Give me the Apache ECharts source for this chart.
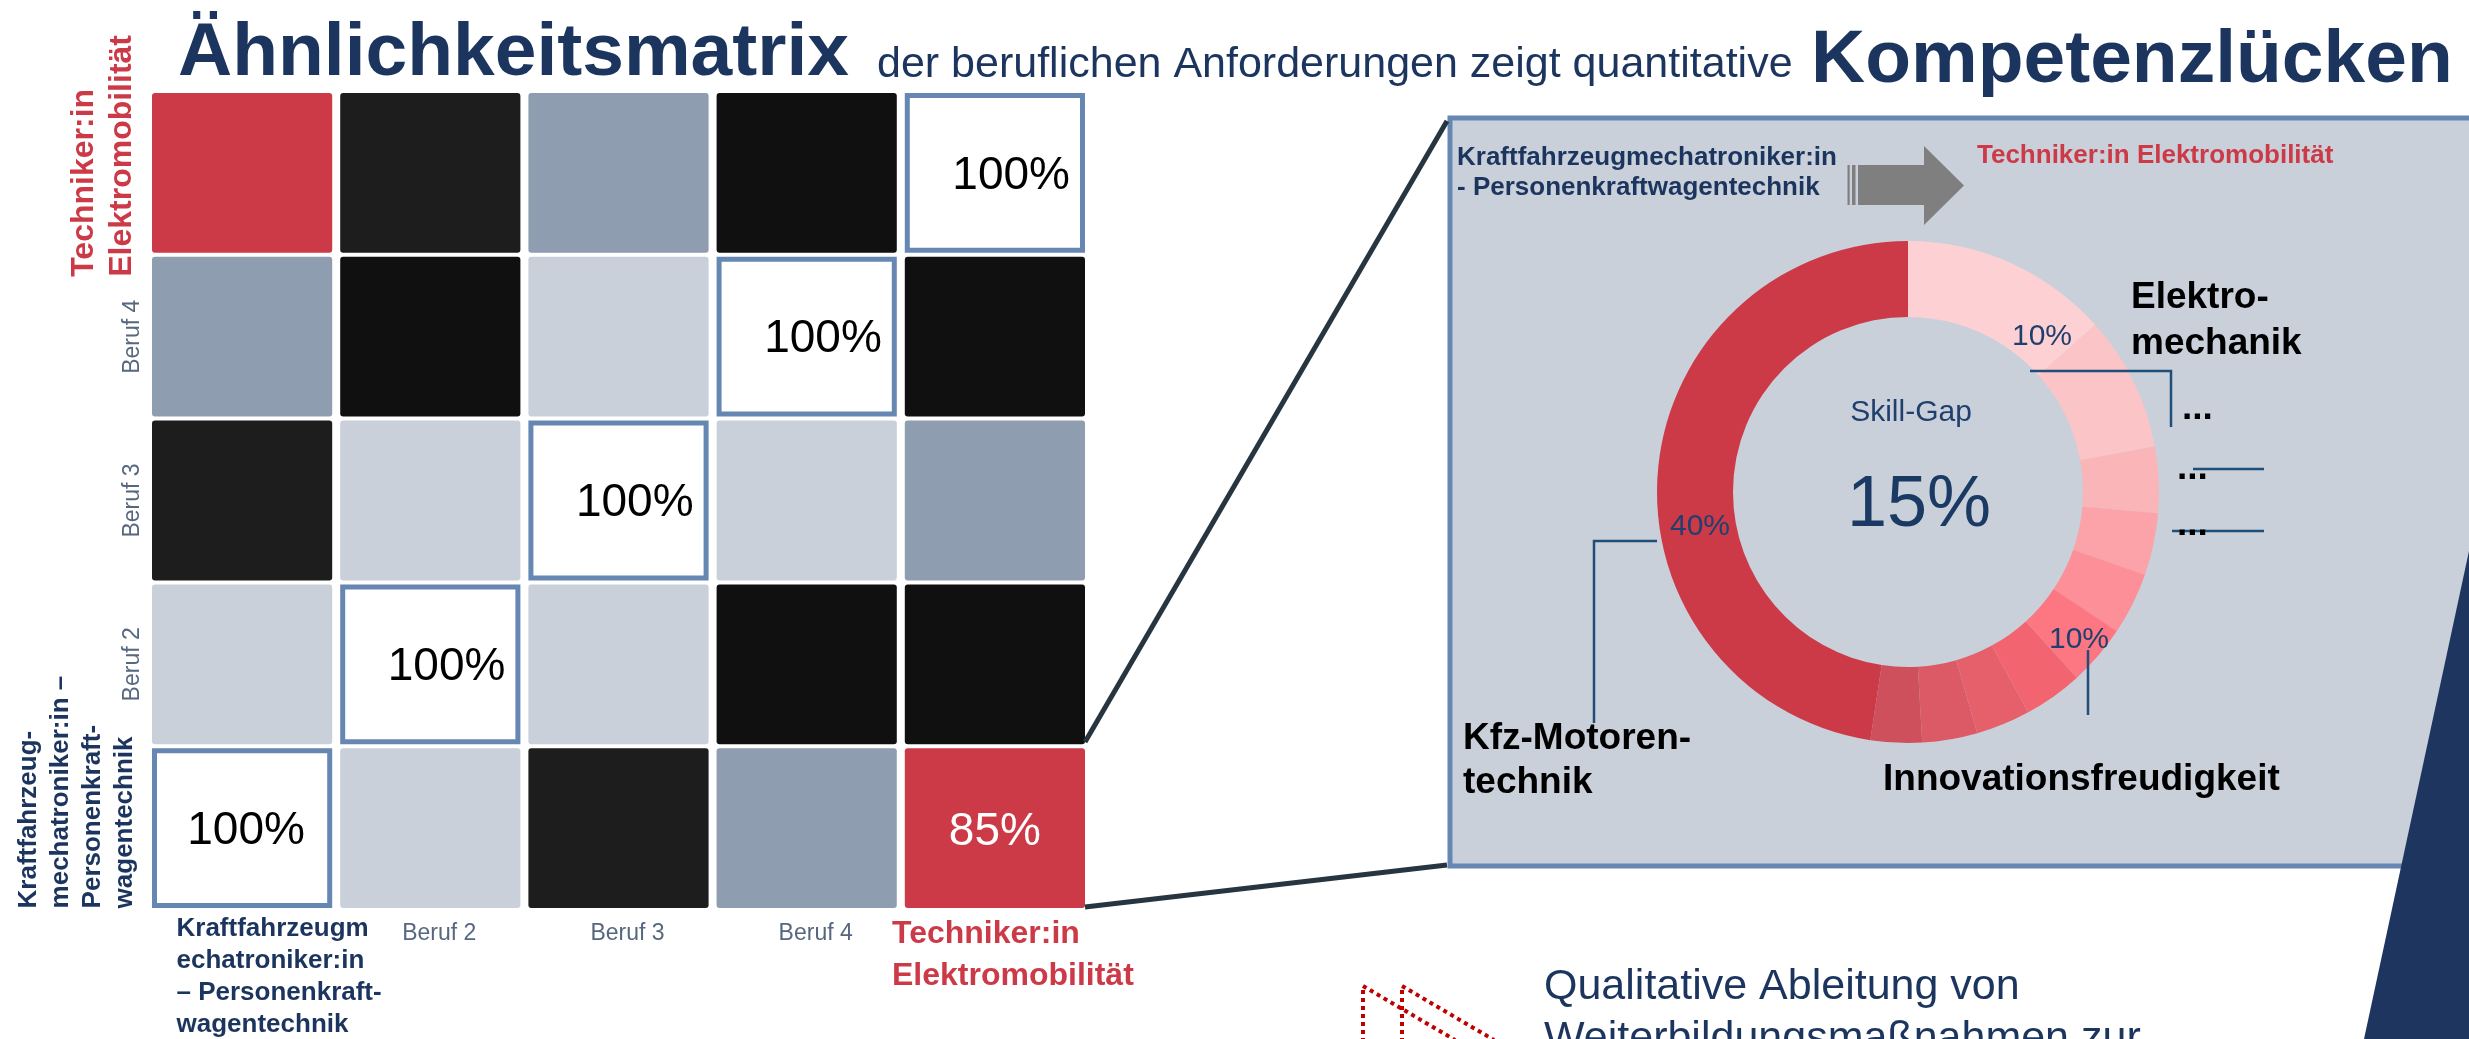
<!DOCTYPE html>
<html>
<head>
<meta charset="utf-8">
<title>Ähnlichkeitsmatrix</title>
<script src="https://cdn.jsdelivr.net/npm/echarts@6.0.0/dist/echarts.min.js"></script>
<style>
  html, body { margin: 0; padding: 0; background: #fff; }
  #main { width: 2469px; height: 1039px; }
</style>
</head>
<body>
<div id="main"></div>
<script>
var FONT = '"Liberation Sans", Arial, sans-serif';
var NAVY = '#1c355e';
var RED = '#cc3a47';

// Berufe: Reihenfolge links->rechts (x) bzw. unten->oben (y)
var occupations = [
  'Kraftfahrzeugmechatroniker:in – Personenkraftwagentechnik',
  'Beruf 2', 'Beruf 3', 'Beruf 4',
  'Techniker:in Elektromobilität'
];
var xTickLabels = [
  'Kraftfahrzeugm\nechatroniker:in\n– Personenkraft-\nwagentechnik',
  'Beruf 2', 'Beruf 3', 'Beruf 4',
  'Techniker:in\nElektromobilität'
];
var yTickLabels = [
  'Kraftfahrzeug-\nmechatroniker:in –\nPersonenkraft-\nwagentechnik',
  'Beruf 2', 'Beruf 3', 'Beruf 4',
  'Techniker:in\nElektromobilität'
];
// Ähnlichkeit in %, Zeile = y-Index (0 = unten), Spalte = x-Index
var similarity = [
  [100, 70, 20, 45, 85],
  [70, 100, 70, 5, 5],
  [20, 70, 100, 70, 45],
  [45, 5, 70, 100, 5],
  [85, 15, 45, 5, 100]
];
var focusCell = [4, 0]; // Kfz-Mechatroniker -> Techniker:in Elektromobilität

// Skill-Gap Donut (im Uhrzeigersinn ab 12 Uhr)
var gapSkills = ['Elektromechanik', 'Kompetenz 2', 'Kompetenz 3', 'Kompetenz 4', 'Kompetenz 5',
  'Innovationsfreudigkeit', 'Kompetenz 7', 'Kompetenz 8', 'Kompetenz 9', 'Kompetenz 10', 'Kfz-Motorentechnik'];
var gapShares = [13.4, 8.7, 4.25, 4.0, 4.0, 3.9, 3.8, 3.5, 3.55, 3.3, 47.6];
var gapLabels = ['10%', '10%', '40%'];
var skillGap = '15%';

var gapPalette = ['#fdd1d4', '#fbc4c7', '#fab5b9', '#fba3a9', '#fc8f97', '#fd7783',
  '#f26570', '#e6606b', '#dc5a66', '#cd505c', '#cc3a47'];

function shade(v) {
  if (v >= 100) return '#ffffff';
  if (v >= 80) return RED;
  if (v >= 60) return '#c9d0da';
  if (v >= 30) return '#8f9db0';
  if (v >= 12) return '#1d1d1d';
  return '#101010';
}

var cells = [];
similarity.forEach(function (row, yi) {
  row.forEach(function (v, xi) { cells.push([xi, yi, v]); });
});

function renderCell(params, api) {
  var xi = api.value(0), yi = api.value(1), v = api.value(2);
  var c = api.coord([xi, yi]);
  var s = api.size([1, 1]);
  var x0 = c[0] - s[0] / 2 + 4, y0 = c[1] - s[1] / 2 + 2;
  var w = s[0] - 8, h = s[1] - 4;
  var kids = [];
  if (xi === yi) {
    kids.push({ type: 'rect', shape: { x: x0 + 2.5, y: y0 + 2.5, width: w - 5, height: h - 5 },
      style: { fill: '#fff', stroke: '#6787b3', lineWidth: 5 } });
    // erste Diagonalzelle ist im Original mittig gesetzt
    kids.push({ type: 'text', style: { text: v + '%', x: xi === 0 ? c[0] + 4 : x0 + w - 15, y: c[1] + 3,
      align: xi === 0 ? 'center' : 'right', verticalAlign: 'middle', font: '46px ' + FONT, fill: '#000' } });
  } else {
    kids.push({ type: 'rect', shape: { x: x0, y: y0, width: w, height: h, r: 3 },
      style: { fill: shade(v) } });
    if (xi === focusCell[0] && yi === focusCell[1]) {
      kids.push({ type: 'text', style: { text: v + '%', x: c[0], y: c[1] + 4,
        align: 'center', verticalAlign: 'middle', font: '46px ' + FONT, fill: '#fff' } });
    }
  }
  return { type: 'group', children: kids };
}

function richLines(str, key) {
  return str.split('\n').map(function (l) { return '{' + key + '|' + l + '}'; }).join('\n');
}

// text helper: x, baseline of first line
function txt(x, base, text, size, color, weight, lh, align) {
  lh = lh || Math.round(size * 1.2);
  return {
    type: 'text', x: x, y: base - 0.3465 * size - lh / 2, z: 20, silent: true,
    style: { text: text, fill: color, font: (weight || 'normal') + ' ' + size + 'px ' + FONT,
      lineHeight: lh, align: align || 'left', verticalAlign: 'top' }
  };
}
function line(pts, color, width, dash) {
  return { type: 'polyline', z: 15, silent: true, shape: { points: pts },
    style: { stroke: color, lineWidth: width, lineDash: dash || null, fill: null } };
}

var LEAD = '#1f4e79';
var graphics = [
  // Titel
  txt(178, 80, 'Ähnlichkeitsmatrix', 75, NAVY, 'bold'),
  txt(877, 80, 'der beruflichen Anforderungen zeigt quantitative', 43, NAVY),
  txt(1811, 87, 'Kompetenzlücken', 75, NAVY, 'bold'),

  // Verbindungslinien zur Detailansicht
  line([[1085, 742], [1447, 121]], '#263540', 5),
  line([[1085, 907], [1447, 865]], '#263540', 5),

  // Panel
  { type: 'rect', z: 0, silent: true, shape: { x: 1450, y: 118, width: 1938, height: 748 },
    style: { fill: '#c9d0da', stroke: '#6787b3', lineWidth: 5 } },
  txt(1457, 167, 'Kraftfahrzeugmechatroniker:in\n- Personenkraftwagentechnik', 26, NAVY, 'bold', 30),
  txt(1977, 165, 'Techniker:in Elektromobilität', 26, RED, 'bold', 30),
  { type: 'rect', z: 10, silent: true, shape: { x: 1847.5, y: 165, width: 2.2, height: 40 }, style: { fill: '#7f7f7f' } },
  { type: 'rect', z: 10, silent: true, shape: { x: 1852, y: 165, width: 3.5, height: 40 }, style: { fill: '#7f7f7f' } },
  { type: 'polygon', z: 10, silent: true,
    shape: { points: [[1858, 165], [1924, 165], [1924, 146], [1964, 185.5], [1924, 225], [1924, 205], [1858, 205]] },
    style: { fill: '#7f7f7f' } },

  // Donut-Beschriftung
  txt(1911, 423, 'Skill-Gap', 30, '#1f3f6e', 'normal', 36, 'center'),
  txt(1919, 531, skillGap, 72, '#1a3a63', 'normal', 80, 'center'),
  txt(2042, 347, gapLabels[0], 30, '#1f3f6e', 'normal', 36, 'center'),
  txt(2079, 650, gapLabels[1], 30, '#1f3f6e', 'normal', 36, 'center'),
  txt(1700, 537, gapLabels[2], 30, '#1f3f6e', 'normal', 36, 'center'),

  line([[2030, 371], [2171, 371], [2171, 427]], LEAD, 2.5),
  line([[2193, 469], [2264, 469]], LEAD, 2.5),
  line([[2172, 531], [2264, 531]], LEAD, 2.5),
  line([[2088, 650], [2088, 715]], LEAD, 2.5),
  line([[1657, 541], [1594, 541], [1594, 723]], LEAD, 2.5),

  txt(2182, 422, '...', 37, '#000', 'bold'),
  txt(2177, 482, '...', 37, '#000', 'bold'),
  txt(2177, 538, '...', 37, '#000', 'bold'),
  txt(2131, 311, 'Elektro-\nmechanik', 37, '#000', 'bold', 46),
  txt(1463, 752, 'Kfz-Motoren-\ntechnik', 37, '#000', 'bold', 44),
  txt(1883, 793, 'Innovationsfreudigkeit', 37, '#000', 'bold'),

  // unten rechts
  txt(1544, 1002, 'Qualitative Ableitung von\nWeiterbildungsmaßnahmen zur', 43, NAVY, 'normal', 52),
  line([[1363, 1042], [1363, 986], [1455, 1040]], '#c00000', 4, [4, 4]),
  line([[1402, 1042], [1402, 986], [1494, 1040]], '#c00000', 4, [4, 4]),
  { type: 'polygon', z: 5, silent: true, shape: { points: [[2469, 551], [2364, 1039], [2469, 1039]] },
    style: { fill: '#1e3560' } }
];

var chart = echarts.init(document.getElementById('main'));
chart.setOption({
  animation: false,
  backgroundColor: '#fff',
  grid: { left: 148, right: 1380, top: 91, bottom: 129, outerBoundsMode: 'none' },
  xAxis: {
    type: 'category', data: occupations,
    axisLine: { show: false }, axisTick: { show: false }, splitLine: { show: false },
    axisLabel: {
      interval: 0, margin: 3,
      formatter: function (val, i) {
        return richLines(xTickLabels[i], i === 0 ? 'kfz' : (i === 4 ? 'tech' : 'beruf'));
      },
      rich: {
        kfz: { fontFamily: FONT, fontSize: 26, fontWeight: 'bold', color: NAVY, lineHeight: 32, align: 'left', padding: [0, 0, 0, 74] },
        beruf: { fontFamily: FONT, fontSize: 23, color: '#56677e', lineHeight: 42, align: 'left', padding: [0, 0, 0, 18] },
        tech: { fontFamily: FONT, fontSize: 32, fontWeight: 'bold', color: RED, lineHeight: 42, align: 'left', padding: [0, 0, 0, 36] }
      }
    }
  },
  yAxis: {
    type: 'category', data: occupations,
    axisLine: { show: false }, axisTick: { show: false }, splitLine: { show: false },
    axisLabel: {
      interval: 0, margin: 7, rotate: 90,
      formatter: function (val, i) {
        return richLines(yTickLabels[i], i === 0 ? 'kfz' : (i === 4 ? 'tech' : 'beruf'));
      },
      rich: {
        kfz: { fontFamily: FONT, fontSize: 26, fontWeight: 'bold', color: NAVY, lineHeight: 32, align: 'left', padding: [0, 0, 0, 72] },
        beruf: { fontFamily: FONT, fontSize: 23, color: '#56677e', lineHeight: 16, align: 'left' },
        tech: { fontFamily: FONT, fontSize: 32, fontWeight: 'bold', color: RED, lineHeight: 38, align: 'left', padding: [0, 0, 0, 34] }
      }
    }
  },
  graphic: { elements: graphics },
  series: [
    {
      type: 'custom', renderItem: renderCell, data: cells,
      encode: { x: 0, y: 1 }, silent: true
    },
    {
      type: 'pie', z: 2, center: [1908, 492], radius: [175, 251],
      startAngle: 90, clockwise: true, silent: true,
      label: { show: false }, labelLine: { show: false },
      color: gapPalette,
      itemStyle: { borderWidth: 0 },
      data: gapSkills.map(function (n, i) { return { name: n, value: gapShares[i] }; })
    }
  ]
});
</script>
</body>
</html>
